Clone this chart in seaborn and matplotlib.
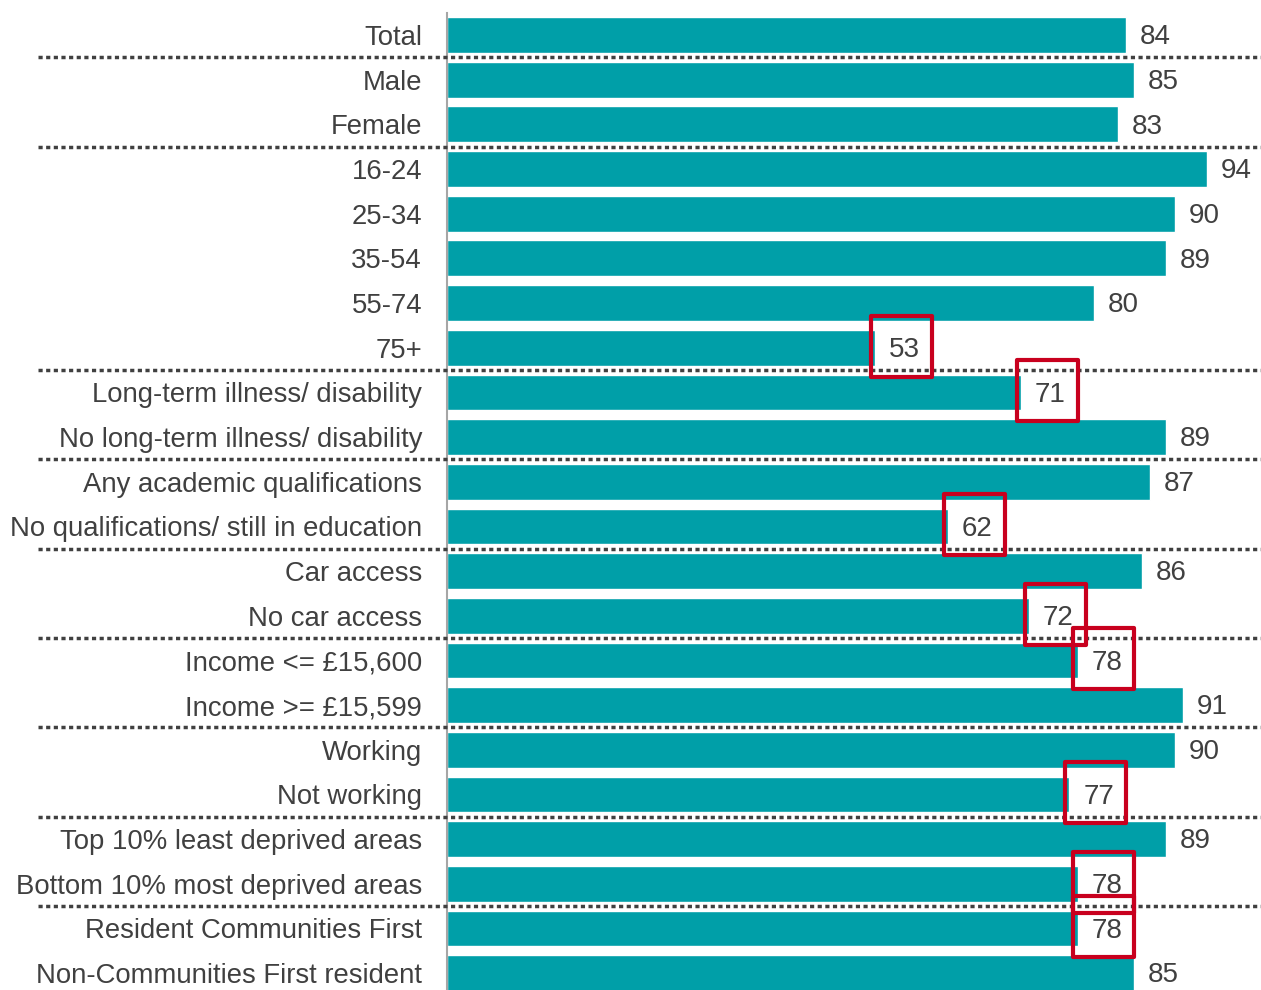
import matplotlib.pyplot as plt
import matplotlib.transforms as mtransforms
import numpy as np
import pandas as pd
import seaborn as sns
from matplotlib.patches import Rectangle

# Chart data
labels = [
    'Total', 'Male', 'Female', '16-24', '25-34', '35-54', '55-74', '75+',
    'Long-term illness/ disability', 'No long-term illness/ disability',
    'Any academic qualifications', 'No qualifications/ still in education',
    'Car access', 'No car access', 'Income <= £15,600', 'Income >= £15,599',
    'Working', 'Not working', 'Top 10% least deprived areas',
    'Bottom 10% most deprived areas', 'Resident Communities First',
    'Non-Communities First resident',
]
values = [84, 85, 83, 94, 90, 89, 80, 53, 71, 89, 87, 62, 86, 72, 78, 91,
          90, 77, 89, 78, 78, 85]
# rows whose value is highlighted with a red box
highlighted = ['75+', 'Long-term illness/ disability',
               'No qualifications/ still in education', 'No car access',
               'Income <= £15,600', 'Not working',
               'Bottom 10% most deprived areas', 'Resident Communities First']
# dotted separators are drawn after these rows
group_ends = ['Total', 'Female', '75+', 'No long-term illness/ disability',
              'No qualifications/ still in education', 'No car access',
              'Income >= £15,599', 'Not working',
              'Bottom 10% most deprived areas']

df = pd.DataFrame({'label': labels, 'value': values})

sns.set_style('white')
plt.rcParams['font.family'] = ['Liberation Sans', 'DejaVu Sans']

text_col = '#404040'
bar_col = '#009FA8'
red = '#C8001E'

fig = plt.figure(figsize=(12.61, 9.9), dpi=100)
ax = fig.add_axes([0.3545, -0.0055, 0.6455, 0.9927])

sns.barplot(data=df, y='label', x='value', color=bar_col, width=0.8,
            saturation=1, orient='h', ax=ax)

ax.set_xlim(0, 100.7)
ax.set_ylim(21.5, -0.5)
ax.set_xlabel('')
ax.set_ylabel('')
ax.set_xticks([])

for s in ['top', 'right', 'bottom']:
    ax.spines[s].set_visible(False)
ax.spines['left'].set_color('#a6a6a6')
ax.spines['left'].set_linewidth(1.5)

ax.tick_params(axis='y', which='major', length=0, pad=18,
               labelsize=19.8, labelcolor=text_col)
ax.set_yticks(np.arange(-0.5, 22, 2), minor=True)
ax.tick_params(axis='y', which='minor', length=7, width=1.5,
               color='#a6a6a6', direction='out')

# value labels
for i, v in enumerate(values):
    ax.text(v + 1.7, i + 0.05, str(v), ha='left', va='center',
            fontsize=20, color=text_col)

# red boxes around the highlighted values
for lab in highlighted:
    i = labels.index(lab)
    v = values[i]
    ax.add_patch(Rectangle((v - 0.5, i - 0.72), 7.5, 1.37, fill=False,
                           edgecolor=red, linewidth=3.0, clip_on=False,
                           zorder=5, joinstyle='round'))

# dotted group separators spanning into the label area
trans = mtransforms.blended_transform_factory(fig.transFigure, ax.transData)
for lab in group_ends:
    y = labels.index(lab) + 0.5
    ax.plot([0.03, 1.0], [y, y], transform=trans, color=text_col,
            linewidth=2.5, linestyle=(0, (1.2, 1.0)), clip_on=False,
            zorder=4)

fig.savefig('out.png', dpi=100)
